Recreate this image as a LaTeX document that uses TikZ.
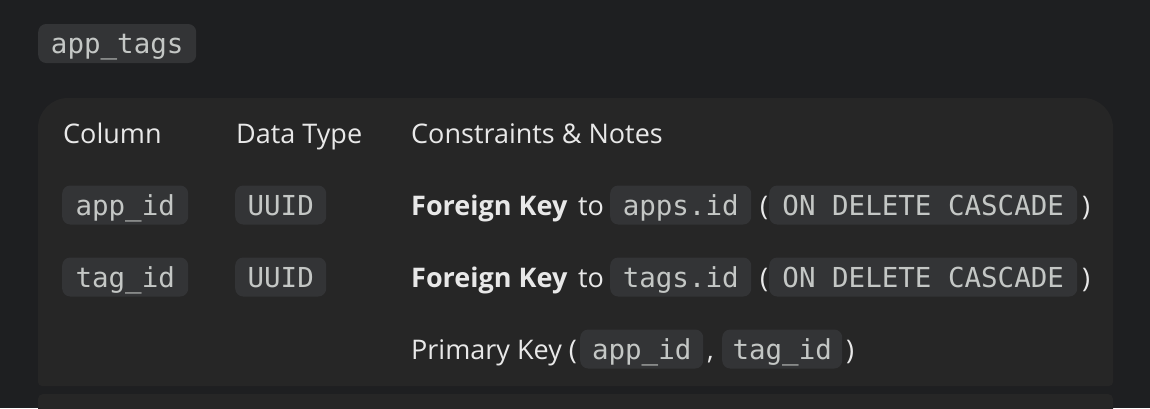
\documentclass[tikz,border=0pt]{standalone}
\usepackage{fontspec}
\setmainfont{Open Sans}
\setmonofont{DejaVu Sans Mono}
\definecolor{pagebg}{HTML}{1E1F21}
\definecolor{cardbg}{HTML}{262626}
\definecolor{pillbg}{HTML}{333436}
\definecolor{codefg}{HTML}{C4C7C5}
\definecolor{textfg}{HTML}{E8E8E8}
\newcommand{\bodysize}{\fontsize{27}{32}\selectfont}
\tikzset{
  pill/.style={fill=pillbg, text=codefg, rounded corners=8pt,
    font=\ttfamily\fontsize{27.5}{32}\selectfont, text height=20pt, text depth=0pt,
    inner xsep=0pt, inner ysep=9.5pt, minimum width=#1, anchor=west},
  celltext/.style={text=textfg, font=\bodysize, text height=20pt, text depth=0pt,
    inner sep=0pt, anchor=west},
  boldtext/.style={celltext, font=\bodysize\bfseries},
}
\begin{document}
\begin{tikzpicture}[x=1pt,y=-1pt]
  \fill[pagebg] (0,0) rectangle (1150,408);
  \useasboundingbox (0,0) rectangle (1150,408);

  % cards
  \fill[cardbg, rounded corners=30pt] (38,98) rectangle (1113,200);
  \fill[cardbg, rounded corners=4pt] (38,150) rectangle (1113,386);
  \fill[cardbg, rounded corners=5pt] (38,394) rectangle (1113,420);

  % table name
  \node[pill=158] (tblname) at (38,43.5) {app\_tags};

  % header row
  \node[celltext] (hcol)  at (63,133)  {Column};
  \node[celltext] (htype) at (236,133) {Data Type};
  \node[celltext] (hnote) at (411,133) {Constraints \& Notes};

  % app_id row
  \node[pill=126] (appcol)  at (62,205)   {app\_id};
  \node[pill=91]  (apptype) at (235,205)  {UUID};
  \node[boldtext] (appfk)   at (411,205)  {Foreign Key};
  \node[celltext] (appto)   at (578,205)  {to};
  \node[pill=141] (appref)  at (610,205)  {apps.id};
  \node[celltext] (appl)    at (760,205)  {(};
  \node[pill=308] (appdel)  at (769,205)  {ON DELETE CASCADE};
  \node[celltext] (appr)    at (1082,205) {)};

  % tag_id row
  \node[pill=126] (tagcol)  at (62,277)   {tag\_id};
  \node[pill=91]  (tagtype) at (235,277)  {UUID};
  \node[boldtext] (tagfk)   at (411,277)  {Foreign Key};
  \node[celltext] (tagto)   at (578,277)  {to};
  \node[pill=141] (tagref)  at (610,277)  {tags.id};
  \node[celltext] (tagl)    at (760,277)  {(};
  \node[pill=308] (tagdel)  at (769,277)  {ON DELETE CASCADE};
  \node[celltext] (tagr)    at (1082,277) {)};

  % primary key row
  \node[celltext] (pktext)  at (411,349)  {Primary Key (};
  \node[pill=123] (pkapp)   at (580,349)  {app\_id};
  \node[celltext] (pkcomma) at (707,349)  {,};
  \node[pill=120] (pktag)   at (722,349)  {tag\_id};
  \node[celltext] (pkr)     at (846,349)  {)};
\end{tikzpicture}
\end{document}
